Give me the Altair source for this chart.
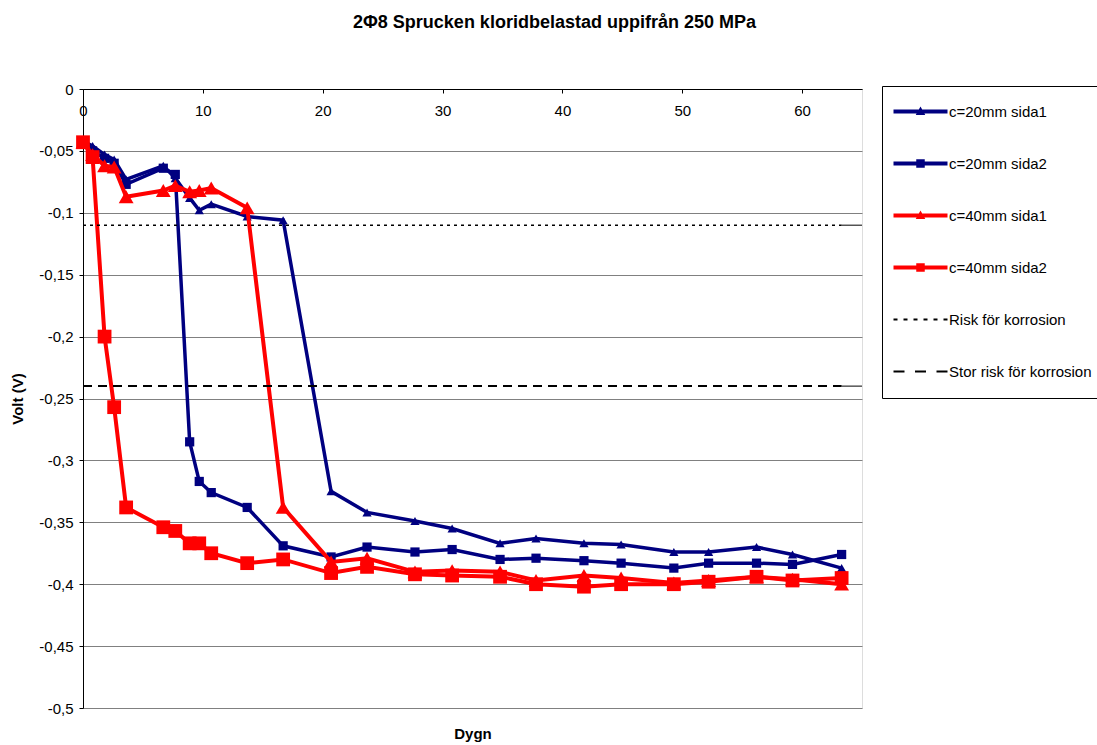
import altair as alt
import pandas as pd

# ---------------- data ----------------
days = [0, 0.8, 1.8, 2.6, 3.6, 6.7, 7.7, 8.9, 9.7, 10.7, 13.7, 16.7, 20.7, 23.7,
        27.7, 30.8, 34.8, 37.8, 41.8, 44.9, 49.3, 52.2, 56.2, 59.2, 63.3]

c20_sida1 = [-0.042, -0.046, -0.053, -0.057, -0.073, -0.062, -0.072, -0.088, -0.098,
             -0.093, -0.103, -0.106, -0.325, -0.342, -0.349, -0.355, -0.367, -0.363,
             -0.367, -0.368, -0.374, -0.374, -0.370, -0.376, -0.387]
c20_sida2 = [-0.043, -0.050, -0.056, -0.060, -0.077, -0.064, -0.069, -0.285, -0.317,
             -0.326, -0.338, -0.369, -0.378, -0.370, -0.374, -0.372, -0.380, -0.379,
             -0.381, -0.383, -0.387, -0.383, -0.383, -0.384, -0.376]
c40_sida1 = [-0.043, -0.053, -0.062, -0.063, -0.087, -0.082, -0.078, -0.083, -0.082,
             -0.080, -0.096, -0.338, -0.382, -0.379, -0.390, -0.389, -0.390, -0.397,
             -0.393, -0.395, -0.399, -0.397, -0.394, -0.396, -0.400]
c40_sida2 = [-0.043, -0.055, -0.200, -0.257, -0.338, -0.354, -0.357, -0.367, -0.367,
             -0.375, -0.383, -0.380, -0.391, -0.386, -0.392, -0.393, -0.394, -0.400,
             -0.402, -0.400, -0.400, -0.398, -0.394, -0.397, -0.395]

series_names = ["c=20mm sida1", "c=20mm sida2", "c=40mm sida1", "c=40mm sida2"]
risk_names = ["Risk för  korrosion", "Stor risk för korrosion"]
risk_levels = [-0.11, -0.24]
risk_start = [0, 0]
risk_end = [63.3, 63.3]
axis_end = 65

x_ticks = [0, 10, 20, 30, 40, 50, 60]
y_ticks = [0, -0.05, -0.1, -0.15, -0.2, -0.25, -0.3, -0.35, -0.4, -0.45, -0.5]

title_text = "2\u03a68 Sprucken kloridbelastad uppifr\u00e5n 250 MPa"
x_title = "Dygn"
y_title = "Volt (V)"

# ---------------- styles ----------------
FONT = "Liberation Sans"
NAVY = "#000080"
RED = "#FF0000"
series_colors = [NAVY, NAVY, RED, RED]
series_shapes = ["triangle-up", "square", "triangle-up", "square"]
series_sizes = [85, 85, 220, 190]
series_widths = [3.5, 3.5, 4, 4]

W, H = 779, 619

x_scale = alt.Scale(domain=[0, axis_end], nice=False, zero=False)
y_scale = alt.Scale(domain=[-0.5, 0], nice=False, zero=False)

x_axis = alt.Axis(orient="bottom", offset=-H, values=x_ticks, grid=False,
                  domainColor="black", tickColor="black", tickSize=4,
                  labelFontSize=15, labelPadding=10, labelFont=FONT,
                  labelColor="black", labelFlush=False, labelOverlap=False,
                  title=x_title, titleFont=FONT, titleFontSize=15,
                  titleColor="black",
                  titleFontWeight="bold", titleY=H + 25, titleBaseline="middle")
y_axis = alt.Axis(orient="left", values=y_ticks, grid=True, gridColor="#808080",
                  gridWidth=1, gridOpacity=1, domainColor="black", tickColor="black",
                  tickSize=4, labelFontSize=15, labelFont=FONT, labelPadding=6,
                  labelColor="black", labelFlush=False, labelOverlap=False,
                  labelExpr="replace(toString(datum.value), '.', ',')",
                  title=y_title, titleFont=FONT, titleFontSize=15,
                  titleColor="black",
                  titleFontWeight="bold", titleX=-66, titleY=H / 2,
                  titleBaseline="middle", titleAngle=-90)


def X(field):
    return alt.X(field, scale=x_scale, axis=x_axis)


def Y(field):
    return alt.Y(field, scale=y_scale, axis=y_axis)


rows = []
for name, vals in zip(series_names, [c20_sida1, c20_sida2, c40_sida1, c40_sida2]):
    for d, v in zip(days, vals):
        rows.append({"series": name, "day": d, "volt": v})
df = pd.DataFrame(rows)

layers = []
for name, col, shp, sz, lw in zip(series_names, series_colors, series_shapes,
                                  series_sizes, series_widths):
    base = alt.Chart(df).transform_filter(alt.datum.series == name)
    line = base.mark_line(color=col, strokeWidth=lw).encode(x=X("day:Q"), y=Y("volt:Q"))
    pts = base.mark_point(shape=shp, filled=True, size=sz, color=col,
                          opacity=1).encode(x=X("day:Q"), y=Y("volt:Q"))
    layers += [line, pts]

risk_df = pd.DataFrame({"name": risk_names, "level": risk_levels,
                        "start": risk_start, "end": risk_end,
                        "axis_end": [axis_end, axis_end]})
risk_dotted = alt.Chart(risk_df).transform_filter(
    alt.datum.name == risk_names[0]).mark_rule(
    color="black", strokeWidth=1.5, strokeDash=[3, 4]).encode(
    x=X("start:Q"), x2="end:Q", y=Y("level:Q"))
risk_dashed = alt.Chart(risk_df).transform_filter(
    alt.datum.name == risk_names[1]).mark_rule(
    color="black", strokeWidth=2, strokeDash=[9, 6]).encode(
    x=X("start:Q"), x2="end:Q", y=Y("level:Q"))
risk_tail = alt.Chart(risk_df).mark_rule(color="black", strokeWidth=1).encode(
    x=X("end:Q"), x2="axis_end:Q", y=Y("level:Q"))
layers += [risk_dotted, risk_dashed, risk_tail]

# ---------------- legend (drawn by Vega's own legend) ----------------
# legend symbols are filled path glyphs (line + marker) in symbol units
legend_names = series_names + risk_names
legend_colors = [NAVY, NAVY, RED, RED, "black", "black"]
BAR = "M-5.4,-0.38H5.4V0.38H-5.4Z"
TRI = BAR + "M0,-1L0.95,0.7H-0.95Z"
SQR = BAR + "M-0.85,-0.85H0.85V0.85H-0.85Z"
DOT = "".join(f"M{a:.1f},-0.18H{a + 0.8:.1f}V0.18H{a:.1f}Z"
              for a in [-5.4, -3.4, -1.4, 0.6, 2.6, 4.6])
DASH = "".join(f"M{a:.1f},-0.22H{b:.1f}V0.22H{a:.1f}Z"
               for a, b in [(-5.4, -3.2), (-1.1, 1.1), (3.2, 5.4)])
legend_paths = [TRI, SQR, TRI, SQR, DOT, DASH]

leg = alt.Legend(title=None, orient="none", legendX=799, legendY=-3,
                 symbolSize=100, symbolOffset=13, labelOffset=21,
                 labelFont=FONT, labelFontSize=15, labelColor="black",
                 rowPadding=36, padding=18, strokeColor="black",
                 fillColor="white", symbolStrokeWidth=0)
ldf = pd.DataFrame({"series": legend_names, "day": [0] * 6, "volt": [0] * 6})
legend_layer = alt.Chart(ldf).transform_filter("false").mark_point(
    filled=True, opacity=1, strokeWidth=0).encode(
    x=X("day:Q"), y=Y("volt:Q"),
    color=alt.Color("series:N", scale=alt.Scale(domain=legend_names, range=legend_colors), legend=leg),
    shape=alt.Shape("series:N", scale=alt.Scale(domain=legend_names, range=legend_paths), legend=leg),
)
layers.append(legend_layer)

chart = alt.layer(*layers).properties(
    width=W, height=H,
    title=alt.TitleParams(text=title_text, font=FONT, fontSize=18,
                          fontWeight="bold", anchor="middle", dx=82, dy=-46,
                          color="black"),
    autosize=alt.AutoSizeParams(type="none"),
    padding={"left": 83, "top": 89, "right": 1097 - 83 - W, "bottom": 745 - 89 - H},
).configure_view(stroke="#808080", strokeWidth=1).configure(font=FONT, background="white")

chart.save("out.html", embed_options={"renderer": "svg", "actions": False})
